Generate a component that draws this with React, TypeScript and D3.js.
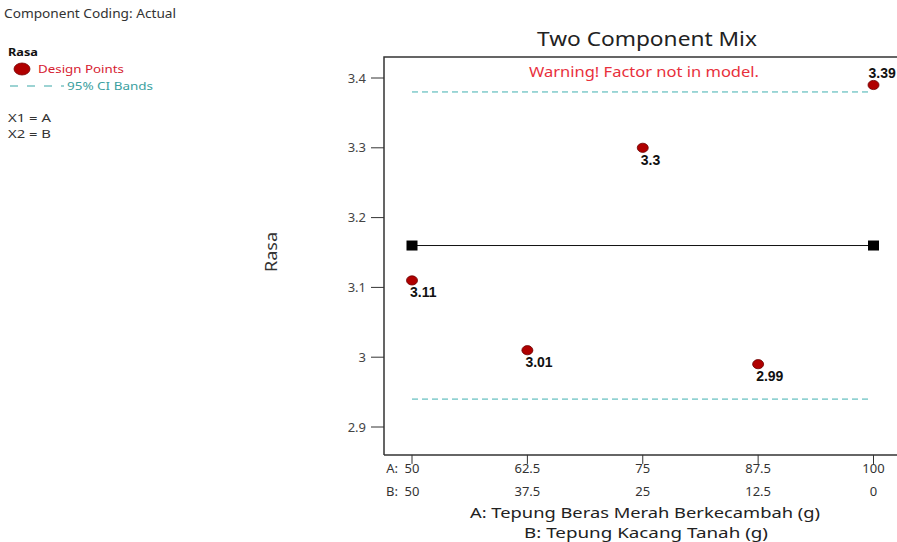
import React from "react";
import * as d3 from "d3";

const componentA = [50, 62.5, 75, 87.5, 100];
const componentB = [50, 37.5, 25, 12.5, 0];
const rasaValues = [3.11, 3.01, 3.3, 2.99, 3.39];
const meanValue = 3.16;
const ciUpper = 3.38;
const ciLower = 2.94;
const yTicks = [2.9, 3, 3.1, 3.2, 3.3, 3.4];

const W = 897;
const H = 542;
const FONT = "'Noto Sans', 'Open Sans', sans-serif";

export default function App() {
  const x = d3.scaleLinear().domain([50, 100]).range([412, 873.5]);
  const y = d3.scaleLinear().domain([2.9, 3.4]).range([427, 78]);
  const frameLeft = 384;
  const frameRight = 905;
  const frameTop = y(3.43);
  const frameBottom = y(2.86);

  const hLine = d3.line<[number, number]>().x((d) => d[0]).y((d) => d[1]);
  const x0 = componentA[0];
  const x1 = componentA[componentA.length - 1];

  return (
    <div style={{ position: "absolute", left: 0, top: 0 }}>
      <svg width={W} height={H} style={{ display: "block", background: "#fff" }}>
        {/* Legend */}
        <g fontFamily={FONT}>
          <text x={4} y={18} fontSize={12} fill="#333" textLength={172} lengthAdjust="spacingAndGlyphs">
            Component Coding: Actual
          </text>
          <text x={8} y={56} fontSize={11} fontWeight="bold" fill="#111" textLength={30} lengthAdjust="spacingAndGlyphs">
            Rasa
          </text>
          <ellipse cx={22} cy={69} rx={8} ry={6} fill="#b00000" stroke="#700" strokeWidth={0.8} />
          <text x={38} y={73} fontSize={11.5} fill="#d62030" textLength={86} lengthAdjust="spacingAndGlyphs">
            Design Points
          </text>
          <line x1={10} x2={64} y1={86} y2={86} stroke="#3aa8a8" strokeWidth={1.2} strokeDasharray="8,9" />
          <text x={67} y={90} fontSize={11.5} fill="#3aa0a0" textLength={86} lengthAdjust="spacingAndGlyphs">
            95% CI Bands
          </text>
          <text x={8} y={122} fontSize={11} fill="#333" textLength={43} lengthAdjust="spacingAndGlyphs">
            X1 = A
          </text>
          <text x={8} y={138} fontSize={11} fill="#333" textLength={43} lengthAdjust="spacingAndGlyphs">
            X2 = B
          </text>
        </g>

        {/* Title */}
        <text
          x={537}
          y={46}
          fontFamily={FONT}
          fontSize={19.5}
          fill="#222"
          textLength={220}
          lengthAdjust="spacingAndGlyphs"
        >
          Two Component Mix
        </text>

        {/* Frame */}
        <path
          d={`M${frameLeft},${frameBottom} L${frameLeft},${frameTop} L${frameRight},${frameTop}`}
          fill="none"
          stroke="#333"
          strokeWidth={1.5}
        />
        <line x1={frameLeft} x2={frameRight} y1={frameBottom} y2={frameBottom} stroke="#333" strokeWidth={1.5} />

        {/* Y axis ticks */}
        {yTicks.map((t) => (
          <g key={t}>
            <line x1={frameLeft - 13} x2={frameLeft} y1={y(t)} y2={y(t)} stroke="#333" strokeWidth={1} />
            <text
              x={frameLeft - 18}
              y={y(t) + 4.5}
              textAnchor="end"
              fontFamily={FONT}
              fontSize={13}
              fill="#444"
            >
              {d3.format("")(t)}
            </text>
          </g>
        ))}

        {/* Y axis label */}
        <text
          transform={`translate(277,252) rotate(-90)`}
          textAnchor="middle"
          fontFamily={FONT}
          fontSize={17}
          fill="#333"
          textLength={40}
          lengthAdjust="spacingAndGlyphs"
        >
          Rasa
        </text>

        {/* X axis ticks */}
        {componentA.map((a, i) => (
          <g key={a}>
            <line x1={x(a)} x2={x(a)} y1={frameBottom} y2={frameBottom + 9} stroke="#333" strokeWidth={1} />
            <text x={x(a)} y={frameBottom + 18} textAnchor="middle" fontFamily={FONT} fontSize={13} fill="#333">
              {a}
            </text>
            <text x={x(a)} y={frameBottom + 41} textAnchor="middle" fontFamily={FONT} fontSize={13} fill="#333">
              {componentB[i]}
            </text>
          </g>
        ))}
        <text x={x(50) - 14} y={frameBottom + 18} textAnchor="end" fontFamily={FONT} fontSize={13} fill="#333">
          A:
        </text>
        <text x={x(50) - 14} y={frameBottom + 41} textAnchor="end" fontFamily={FONT} fontSize={13} fill="#333">
          B:
        </text>

        {/* X axis titles */}
        <text
          x={470}
          y={518}
          fontFamily={FONT}
          fontSize={15}
          fill="#222"
          textLength={350}
          lengthAdjust="spacingAndGlyphs"
        >
          A: Tepung Beras Merah Berkecambah (g)
        </text>
        <text
          x={524}
          y={538}
          fontFamily={FONT}
          fontSize={15}
          fill="#222"
          textLength={244}
          lengthAdjust="spacingAndGlyphs"
        >
          B: Tepung Kacang Tanah (g)
        </text>

        {/* Warning */}
        <text
          x={529}
          y={77}
          fontFamily={FONT}
          fontSize={15}
          fill="#e8303c"
          textLength={230}
          lengthAdjust="spacingAndGlyphs"
        >
          Warning! Factor not in model.
        </text>

        {/* CI bands */}
        {[ciUpper, ciLower].map((v) => (
          <path
            key={v}
            d={hLine([
              [x(x0), y(v)],
              [x(x1) - 3, y(v)],
            ]) || ""}
            stroke="#40b0b0"
            strokeWidth={1}
            strokeDasharray="6,4"
            fill="none"
          />
        ))}

        {/* Mean line */}
        <path
          d={hLine([
            [x(x0), y(meanValue)],
            [x(x1), y(meanValue)],
          ]) || ""}
          stroke="#111"
          strokeWidth={1}
          fill="none"
        />
        {[x0, x1].map((a) => (
          <rect key={a} x={x(a) - 5.5} y={y(meanValue) - 5} width={11} height={10} fill="#000" />
        ))}

        {/* Design points */}
        {componentA.map((a, i) => {
          const v = rasaValues[i];
          const isLast = i === componentA.length - 1;
          return (
            <g key={a}>
              <ellipse cx={x(a)} cy={y(v)} rx={5.5} ry={4.6} fill="#b00000" stroke="#6a0000" strokeWidth={0.8} />
              <text
                x={isLast ? x(a) - 5 : x(a) - 2}
                y={isLast ? y(v) - 7 : y(v) + 17}
                fontFamily="'Liberation Sans', Arial, sans-serif"
                fontWeight="bold"
                fontSize={14}
                fill="#111"
              >
                {v}
              </text>
            </g>
          );
        })}
      </svg>
    </div>
  );
}
